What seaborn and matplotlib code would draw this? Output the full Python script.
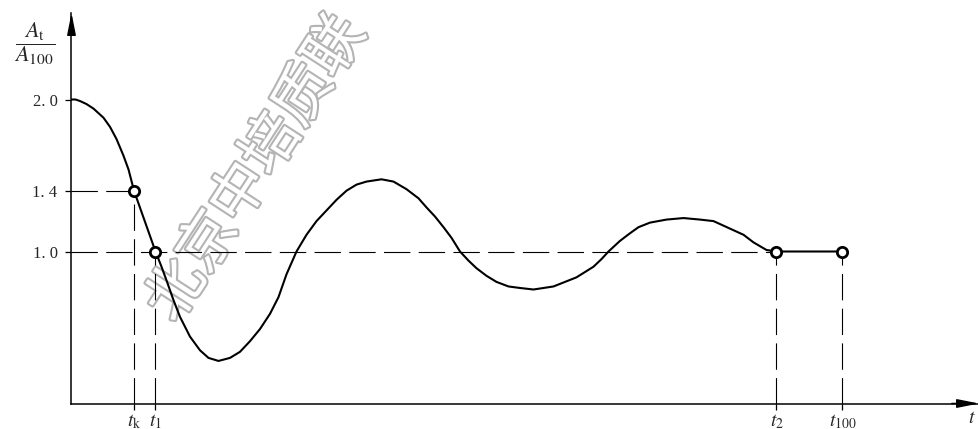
import seaborn as sns
import matplotlib.pyplot as plt
import matplotlib.patheffects as pe

curve_x = [0, 4, 8.5, 15, 22, 32, 38.5, 45, 52, 57, 62.5,
           84, 90, 95, 102, 108.5, 118.5, 128.5, 137, 147, 158.5,
           168.5, 178.5, 188.5, 198.5, 207, 215, 225, 235, 245, 255,
           265, 275, 285, 295, 310, 322, 335, 347, 355, 363.5,
           372, 380, 388.5, 397, 405, 415, 425, 437, 448.5, 462,
           472, 482, 493.5, 505, 522, 530, 537, 548.5, 558.5, 567,
           578.5, 595, 612, 628.5, 642, 662, 672, 682, 695, 705,
           771]
curve_y = [2.00, 2.00, 1.99, 1.97, 1.94, 1.88, 1.82, 1.74, 1.63, 1.54, 1.40,
           1.00, 0.90, 0.81, 0.68, 0.57, 0.44, 0.35, 0.30, 0.28, 0.30,
           0.34, 0.41, 0.49, 0.59, 0.70, 0.85, 1.00, 1.11, 1.20, 1.27,
           1.34, 1.40, 1.44, 1.46, 1.475, 1.46, 1.41, 1.35, 1.29, 1.23,
           1.16, 1.09, 1.00, 0.94, 0.89, 0.84, 0.80, 0.77, 0.76, 0.75,
           0.76, 0.77, 0.80, 0.83, 0.90, 0.95, 1.00, 1.07, 1.12, 1.16,
           1.19, 1.21, 1.22, 1.21, 1.20, 1.14, 1.11, 1.06, 1.01, 1.00,
           1.00]

# marked points t_k, t_1, t_2, t_100
point_x = [62.5, 84, 705, 771]
point_y = [1.4, 1.0, 1.0, 1.0]
x_tick_labels = [r'$t_{\mathrm{k}}$', r'$t_1$', r'$t_2$', r'$t_{100}$']

y_ticks = [1.0, 1.4, 2.0]
y_tick_labels = ['1. 0', '1. 4', '2. 0']

watermark = '北京中培质联'

sns.set_theme(style='ticks')
plt.rcParams['font.family'] = ['Liberation Serif', 'DejaVu Serif']
plt.rcParams['mathtext.fontset'] = 'stix'
plt.rcParams['lines.scale_dashes'] = False

fig = plt.figure(figsize=(9.79, 4.29), dpi=100)
ax = fig.add_axes([71.5 / 979, 25.5 / 429, 907.5 / 979, 390.5 / 429])
ax.set_xlim(0, 907.5)
ax.set_ylim(0, 390.5 / 152)

dash = (0, (19, 6))
# guide lines
ax.plot([0, point_x[0]], [point_y[0], point_y[0]], color='black', lw=0.8, ls=dash, zorder=2)
ax.plot([0, point_x[2]], [1.0, 1.0], color='black', lw=0.8, ls=dash, zorder=2)
for px, py in zip(point_x, point_y):
    ax.plot([px, px], [0, py], color='black', lw=0.8, ls=dash, zorder=2)

sns.lineplot(x=curve_x, y=curve_y, ax=ax, color='black', linewidth=1.5,
             sort=False, estimator=None, zorder=3)
sns.scatterplot(x=point_x, y=point_y, ax=ax, s=55, facecolor='white',
                edgecolor='black', linewidth=2.0, zorder=5, clip_on=False)

ax.set_xticks(point_x)
ax.set_xticklabels(x_tick_labels, fontsize=14)
ax.set_yticks(y_ticks)
ax.set_yticklabels(y_tick_labels, fontsize=12)
ax.tick_params(axis='both', direction='out', length=4, width=0.9, color='black')
ax.tick_params(axis='y', pad=6)
ax.tick_params(axis='x', pad=2)

sns.despine(ax=ax)
for side in ('left', 'bottom'):
    ax.spines[side].set_linewidth(1.1)
    ax.spines[side].set_color('black')

# axis arrows
arrow = dict(arrowstyle='-|>,head_length=1.1,head_width=0.22', color='black',
             lw=1.1, shrinkA=0, shrinkB=0)
ax.annotate('', xy=(0, 1), xytext=(0, 0.95), xycoords='axes fraction',
            arrowprops=arrow, annotation_clip=False)
ax.annotate('', xy=(1, 0), xytext=(0.97, 0), xycoords='axes fraction',
            arrowprops=arrow, annotation_clip=False)

fig.text(35 / 979, 1 - 44 / 429, r'$\dfrac{A_{\mathrm{t}}}{A_{100}}$',
         fontsize=16, ha='center', va='center')
fig.text(968 / 979, 1 - 410 / 429, r'$t$', fontsize=14, ha='left', va='top')

# watermark
ax.text(257 / 979, 1 - 169 / 429, watermark, transform=fig.transFigure,
        family=['Noto Sans CJK SC', 'DejaVu Sans'], fontsize=42, color='white',
        rotation=57, ha='center', va='center', rotation_mode='anchor', zorder=1,
        path_effects=[pe.Stroke(linewidth=3, foreground='#b4b4b4'), pe.Normal()])

fig.savefig('out.png', dpi=100, facecolor='white')
